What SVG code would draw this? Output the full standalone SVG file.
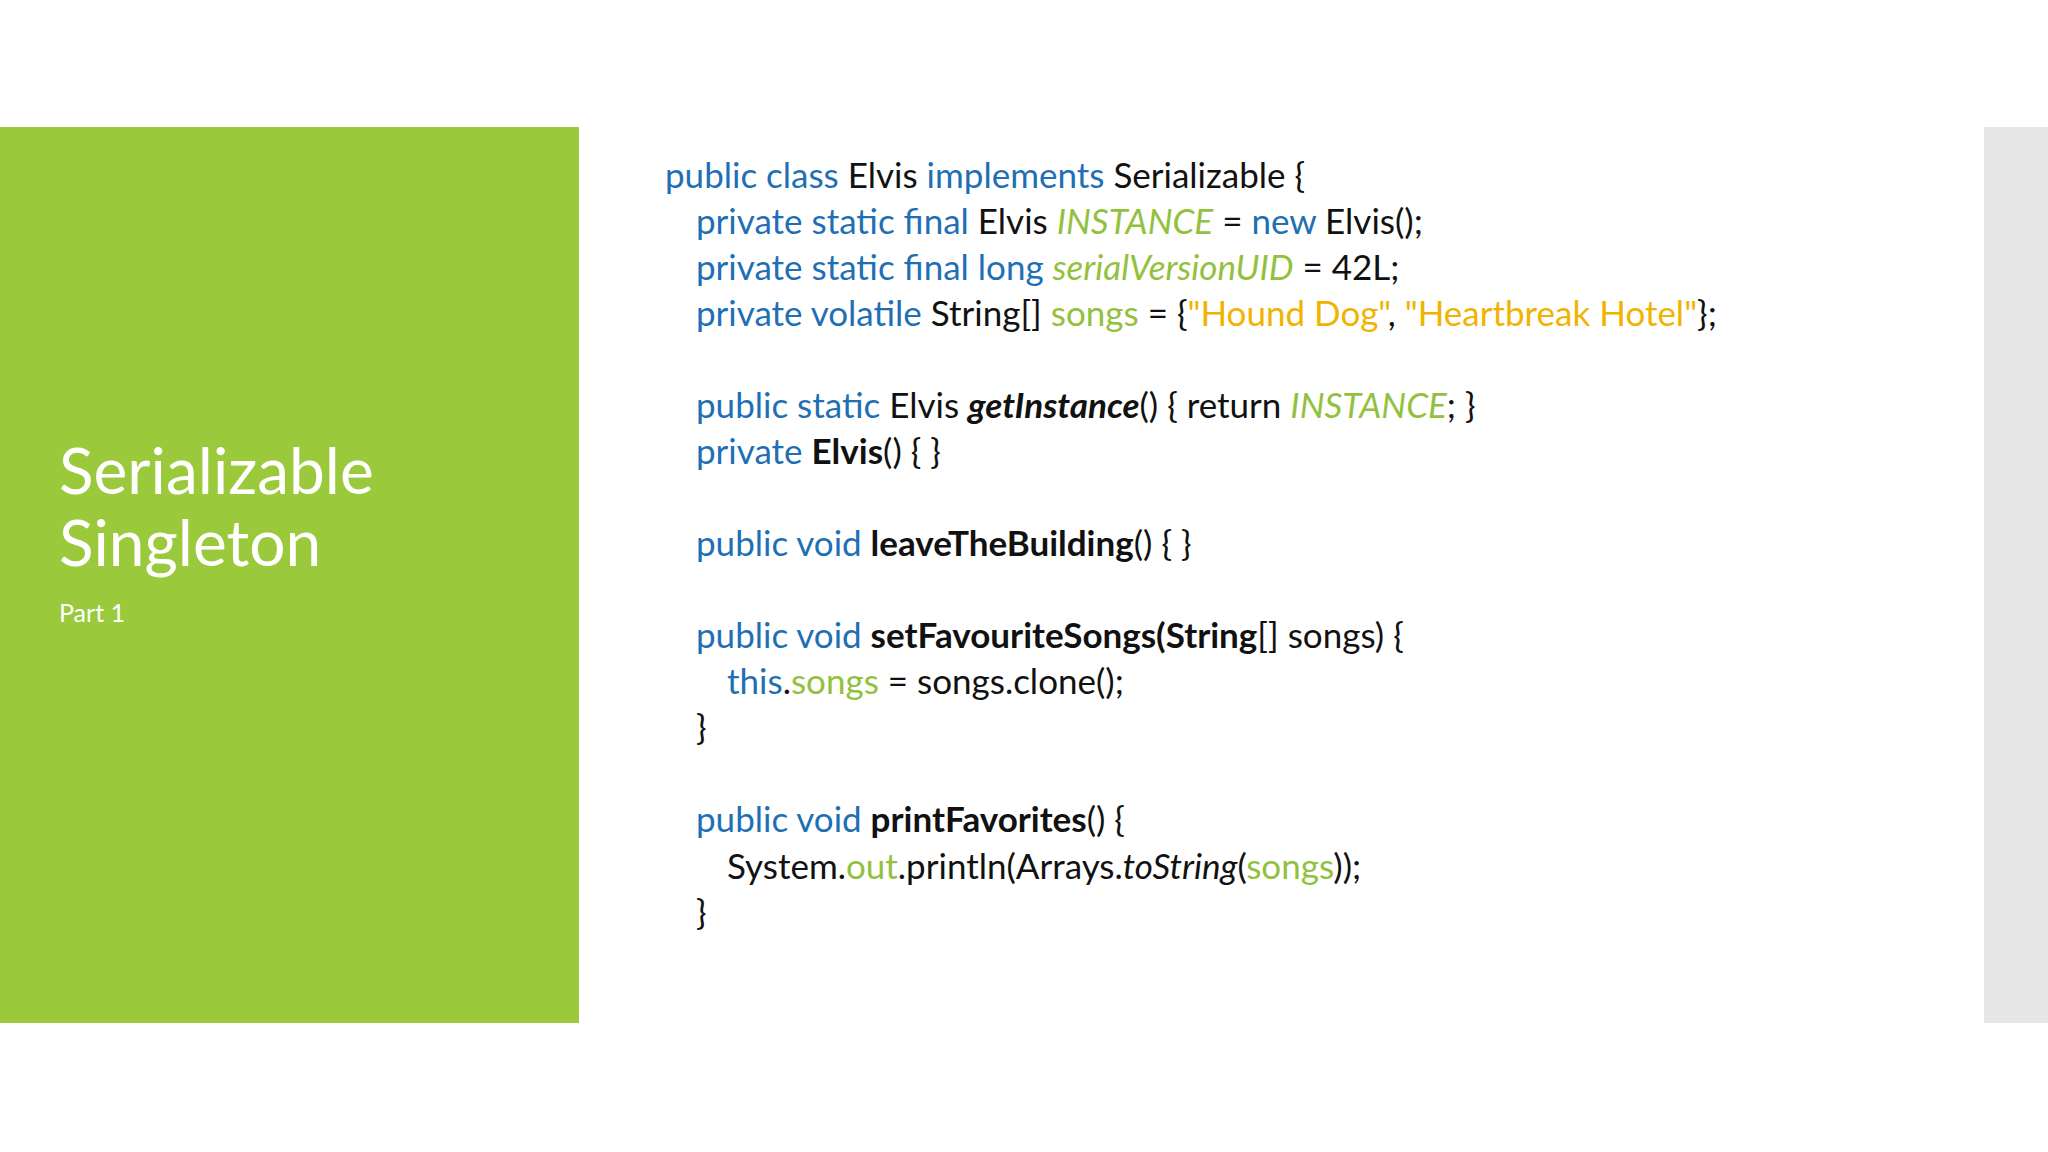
<svg xmlns="http://www.w3.org/2000/svg" width="2048" height="1152" viewBox="0 0 2048 1152">
<style>
.c{font-family:Lato,"Open Sans",sans-serif;font-size:35px;fill:#111}
.k{fill:#1F6FB5}.g{fill:#92C13E}.o{fill:#F0B400}.b{font-weight:bold}.i{font-style:italic}
.t{font-family:Lato,"Open Sans",sans-serif;fill:#fff}
</style>
<rect width="2048" height="1152" fill="#fff"/>
<g id="side"><rect x="0" y="127" width="579" height="896" fill="#9ACA3C"/>
<text class="t" x="59" y="494" font-size="64">Serializable</text>
<text class="t" x="59" y="566" font-size="64">Singleton</text>
<text class="t" x="59" y="622" font-size="25">Part 1</text></g>
<rect id="bar" x="1984" y="127" width="64" height="896" fill="#E6E6E6"/>
<g id="code" class="c">
<text x="665" y="188"><tspan class="k">public class</tspan> Elvis <tspan class="k">implements</tspan> Serializable {</text>
<text x="696" y="234"><tspan class="k">private static final</tspan> Elvis <tspan class="g i">INSTANCE</tspan> = <tspan class="k">new</tspan> Elvis();</text>
<text x="696" y="280"><tspan class="k">private static final long</tspan> <tspan class="g i">serialVersionUID</tspan> = 42L;</text>
<text x="696" y="326"><tspan class="k">private volatile</tspan> String[] <tspan class="g">songs</tspan> = {<tspan class="o">"Hound Dog"</tspan>, <tspan class="o">"Heartbreak Hotel"</tspan>};</text>
<text x="696" y="418"><tspan class="k">public static</tspan> Elvis <tspan class="b i">getInstance</tspan>() { return <tspan class="g i">INSTANCE</tspan>; }</text>
<text x="696" y="464"><tspan class="k">private</tspan> <tspan class="b">Elvis</tspan>() { }</text>
<text x="696" y="556"><tspan class="k">public void</tspan> <tspan class="b">leaveTheBuilding</tspan>() { }</text>
<text x="696" y="648"><tspan class="k">public void</tspan> <tspan class="b">setFavouriteSongs(String</tspan>[] songs) {</text>
<text x="727" y="694"><tspan class="k">this</tspan>.<tspan class="g">songs</tspan> = songs.clone();</text>
<text x="696" y="740">}</text>
<text x="696" y="832"><tspan class="k">public void</tspan> <tspan class="b">printFavorites</tspan>() {</text>
<text x="727" y="879">System.<tspan class="g">out</tspan>.println(Arrays.<tspan class="i">toString</tspan>(<tspan class="g">songs</tspan>));</text>
<text x="696" y="925">}</text>
</g>
</svg>
